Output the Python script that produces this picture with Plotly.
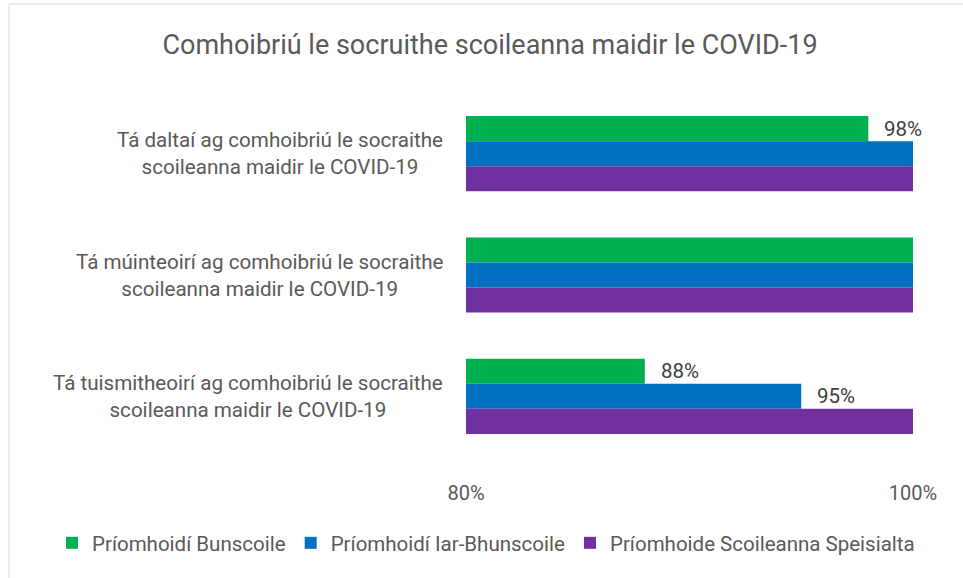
import plotly.graph_objects as go

# Survey statements (top to bottom) and the three respondent groups
categories = [
    "Tá daltaí ag comhoibriú le socraithe<br>scoileanna maidir le COVID-19",
    "Tá múinteoirí ag comhoibriú le socraithe<br>scoileanna maidir le COVID-19",
    "Tá tuismitheoirí ag comhoibriú le socraithe<br>scoileanna maidir le COVID-19",
]
series_names = [
    "Príomhoidí Bunscoile",
    "Príomhoidí Iar-Bhunscoile",
    "Príomhoide Scoileanna Speisialta",
]
bunscoile = [98, 100, 88]
iar_bhunscoile = [100, 100, 95]
speisialta = [100, 100, 100]
tick_values = [80, 100]

series_values = [bunscoile, iar_bhunscoile, speisialta]
colors = ["#00B050", "#0070C0", "#7030A0"]

FONT = "Roboto, sans-serif"
TEXT = "#595959"
BARGAP = 0.38

L, R, T, B = 466, 50, 93, 121
PW = 963 - L - R
PH = 578 - T - B

fig = go.Figure()
for name, vals, col in zip(series_names, series_values, colors):
    fig.add_trace(go.Bar(
        y=categories, x=vals, name=name, orientation="h",
        marker=dict(color=col, line=dict(width=0)),
    ))

# Value labels for bars that fall short of 100%
w = (1 - BARGAP) / len(series_values)
annotations = []
for ti, vals in enumerate(series_values):
    offset = (ti - (len(series_values) - 1) / 2) * w
    for ci, v in enumerate(vals):
        if v < 100:
            annotations.append(dict(
                x=v, y=ci + offset, xref="x", yref="y", text=f"{v}%",
                showarrow=False, xanchor="left", yanchor="middle", xshift=14,
                font=dict(family=FONT, size=20.5, color="#404040"),
            ))

# Category labels: right-aligned block next to the plot, lines centred
for ci, cat in enumerate(categories):
    annotations.append(dict(
        x=(445 - L) / PW, xref="paper", y=ci, yref="y",
        text=cat, showarrow=False, xanchor="right", yanchor="middle",
        align="center", font=dict(family=FONT, size=20.6, color=TEXT),
    ))

fig.update_layout(
    width=963, height=578,
    margin=dict(l=L, r=R, t=T, b=B),
    paper_bgcolor="white", plot_bgcolor="white",
    barmode="group", bargap=BARGAP,
    title=dict(
        text="Comhoibriú le socruithe scoileanna maidir le COVID-19",
        x=490 / 963, xanchor="center", y=1 - 45 / 578, yanchor="middle",
        xref="container", yref="container",
        font=dict(family=FONT, size=27, color=TEXT),
    ),
    xaxis=dict(
        range=[80, 100], tickvals=tick_values,
        ticktext=[f"{v}%" for v in tick_values],
        showgrid=True, gridcolor="#D9D9D9", gridwidth=1,
        zeroline=False, showline=False, ticks="",
        tickfont=dict(family=FONT, size=20, color=TEXT),
        ticklabelstandoff=22,
    ),
    yaxis=dict(
        autorange="reversed", showticklabels=False, showgrid=False,
        zeroline=False, showline=False, ticks="",
    ),
    legend=dict(
        orientation="h", xref="paper", yref="paper",
        x=(52 - L) / PW, xanchor="left",
        y=-(543 - (578 - B)) / PH, yanchor="middle",
        font=dict(family=FONT, size=20.5, color=TEXT),
        traceorder="normal", itemwidth=30,
    ),
    annotations=annotations,
    shapes=[dict(
        type="rect", xref="paper", yref="paper",
        x0=(9 - L) / PW, x1=1.2, y0=-0.5, y1=1 + (T - 4) / PH,
        line=dict(color="#D9D9D9", width=1), layer="below",
    )],
)

fig.write_html("out.html")
